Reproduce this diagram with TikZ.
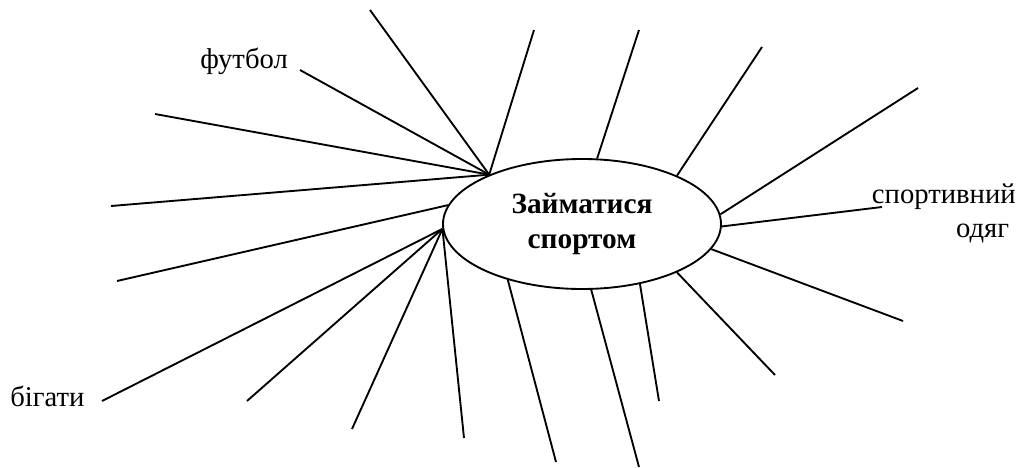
\documentclass[tikz,border=0pt]{standalone}
\usepackage{fontspec}
\setmainfont{Liberation Serif}
\usetikzlibrary{shapes.geometric}
\tikzset{
  topic/.style={ellipse,draw,line width=1.4pt,minimum width=208.5pt,minimum height=97.5pt,
    inner sep=0pt,align=center,font=\fontsize{22}{26.5}\selectfont\bfseries},
  spoke/.style={line width=1.4pt},
  lbl/.style={font=\fontsize{21.5}{25.5}\selectfont,inner sep=0pt}
}

\begin{document}
\begin{tikzpicture}[x=0.75pt,y=-0.75pt]
  \useasboundingbox (0,0) rectangle (1026,468);

  \node[topic] (sport) at (582,224) {Займатися\\спортом};

  % free ends of the spokes
  \coordinate (t1) at (370,10);
  \coordinate (t2) at (534,30);
  \coordinate (t3) at (300,70);
  \coordinate (t4) at (155,114);
  \coordinate (t5) at (111,206);
  \coordinate (t6) at (117,281);
  \coordinate (b1) at (102,401);
  \coordinate (b2) at (247,401);
  \coordinate (b3) at (352,429);
  \coordinate (b4) at (464,438);
  \coordinate (b5) at (556,462);
  \coordinate (b6) at (639,467);
  \coordinate (b7) at (659,401);
  \coordinate (b8) at (775,375);
  \coordinate (r1) at (903,321);
  \coordinate (r2) at (882,207);
  \coordinate (r3) at (918,88);
  \coordinate (r4) at (762,47);
  \coordinate (r5) at (639,30);

  \foreach \a/\e in {152/t1,152/t2,152/t3,152/t4,152/t5,172/t6,
                     182/b1,182/b2,182/b3,182/b4,217/b5,278/b6,314/b7,333/b8,
                     349/r1,359/r2,4/r3,27/r4,77/r5}{
    \draw[spoke] (sport.\a) -- (\e);
  }

  \node[lbl,anchor=base west] (futbol) at (200,68) {футбол};
  \node[lbl,anchor=base west] (bihaty) at (10,406) {бігати};
  \node[lbl,anchor=base east,align=right] (odyah) at (1016,237) {спортивний\\одяг\kern5pt};
\end{tikzpicture}
\end{document}
